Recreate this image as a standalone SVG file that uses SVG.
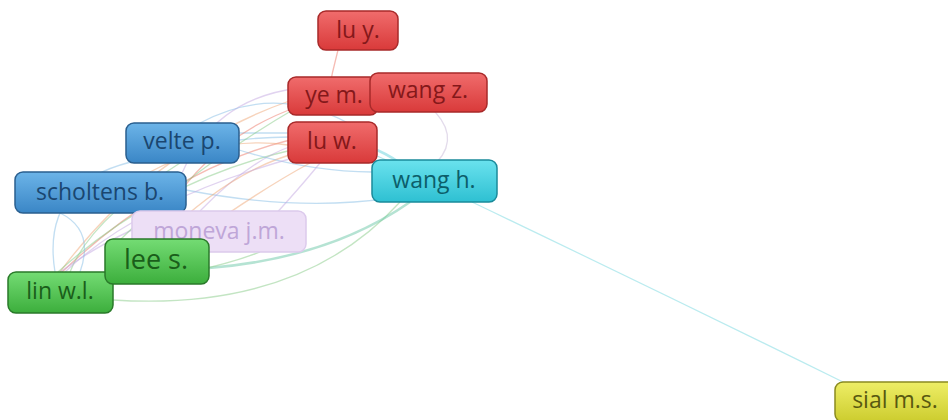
<svg xmlns="http://www.w3.org/2000/svg" width="948" height="420" viewBox="0 0 948 420">
<defs>
<linearGradient id="gRed" x1="0" y1="0" x2="0" y2="1"><stop offset="0" stop-color="#f06c6c"/><stop offset="1" stop-color="#d93a3a"/></linearGradient>
<linearGradient id="gBlue" x1="0" y1="0" x2="0" y2="1"><stop offset="0" stop-color="#6cb4e8"/><stop offset="1" stop-color="#3a86c6"/></linearGradient>
<linearGradient id="gCyan" x1="0" y1="0" x2="0" y2="1"><stop offset="0" stop-color="#6ae2ee"/><stop offset="1" stop-color="#2ec0d2"/></linearGradient>
<linearGradient id="gGreen" x1="0" y1="0" x2="0" y2="1"><stop offset="0" stop-color="#74dc74"/><stop offset="1" stop-color="#3cae3c"/></linearGradient>
<linearGradient id="gYellow" x1="0" y1="0" x2="0" y2="1"><stop offset="0" stop-color="#eeee66"/><stop offset="1" stop-color="#cccc2e"/></linearGradient>
</defs>
<style>
text{font-family:"Open Sans","DejaVu Sans",sans-serif;font-size:23px;text-anchor:middle}
.red rect{fill:url(#gRed);stroke:#a82a2a;stroke-width:1.5}
.red text{fill:#84181a}
.blue rect{fill:url(#gBlue);stroke:#2a5f8f;stroke-width:1.5}
.blue text{fill:#1a4670}
.cyan rect{fill:url(#gCyan);stroke:#1a8a9a;stroke-width:1.5}
.cyan text{fill:#0c5e6a}
.green rect{fill:url(#gGreen);stroke:#2a7a2a;stroke-width:1.5}
.green text{fill:#1a5e1a}
.yellow rect{fill:url(#gYellow);stroke:#8a8a20;stroke-width:1.5}
.yellow text{fill:#585810}
.faded rect{fill:#eddff6;stroke:#dccaec;stroke-width:1.5}
.faded text{fill:#bfa6d8}
#edges path{fill:none;stroke-width:1.3;stroke-opacity:0.5}
.er{stroke:#ee7a6a}.eo{stroke:#f0a878}.eg{stroke:#88cc88}.eb{stroke:#86bde6}.ep{stroke:#c4a8e2}.ec{stroke:#66d2dc}.et{stroke:#6cc8a8}
</style>
<g id="edges">
<path class="er" d="M338,50 Q332,72 328,96"/>
<path class="eb" d="M239,133 L288,133"/>
<path class="eb" d="M239,140 Q265,137 290,137"/>
<path class="ec" d="M377,150 Q395,158 406,168" style="stroke-width:2.5"/>
<path class="ec" d="M377,156 Q392,162 402,170"/>
<path class="eo" d="M60,272 Q150,150 292,100"/>
<path class="er" d="M62,272 Q170,170 290,140"/>
<path class="eg" d="M58,272 Q160,180 292,150"/>
<path class="eb" d="M55,272 Q40,180 140,160"/>
<path class="eg" d="M113,300 Q300,312 400,202"/>
<path class="et" d="M209,268 Q330,258 410,202" style="stroke-width:2.5"/>
<path class="eb" d="M186,190 Q300,212 390,198"/>
<path class="ep" d="M170,211 Q195,100 300,88"/>
<path class="ep" d="M200,211 Q250,160 292,146"/>
<path class="ep" d="M428,105 Q462,135 437,162" style="stroke:#c8b8d8"/>
<path class="ep" d="M60,272 Q120,230 170,216"/>
<path class="eo" d="M160,240 Q230,170 300,152"/>
<path class="er" d="M150,240 Q200,140 300,106"/>
<path class="eo" d="M150,172 Q220,135 288,145"/>
<path class="eg" d="M70,272 Q90,220 180,163"/>
<path class="eb" d="M239,150 Q310,172 372,172"/>
<path class="ep" d="M65,272 Q140,200 300,156"/>
<path class="eg" d="M120,240 Q190,170 296,108"/>
<path class="eb" d="M80,272 Q95,230 60,213"/>
<path class="ep" d="M240,252 Q290,200 320,163"/>
<path class="eo" d="M190,240 Q260,190 310,163"/>
<path class="eb" d="M200,123 Q280,80 360,130"/>
<path class="eg" d="M113,282 Q200,275 260,252"/>
<path class="ec" d="M472,202 Q660,292 843,382" style="stroke-width:1.2;stroke-opacity:0.45"/>
</g>
<g id="n-luy" class="red"><rect x="318" y="11" width="80" height="39" rx="8"/><text x="358" y="38">lu y.</text></g>
<g id="n-yem" class="red"><rect x="288" y="77" width="90" height="38" rx="8"/><text x="334" y="103">ye m.</text></g>
<g id="n-wangz" class="red"><rect x="370" y="73" width="117" height="39" rx="8"/><text x="428" y="98">wang z.</text></g>
<g id="n-luw" class="red"><rect x="288" y="122" width="89" height="41" rx="8"/><text x="332" y="149">lu w.</text></g>
<g id="n-velte" class="blue"><rect x="126" y="123" width="113" height="40" rx="8"/><text x="182" y="149">velte p.</text></g>
<g id="n-scholtens" class="blue"><rect x="15" y="172" width="171" height="41" rx="8"/><text x="100" y="200">scholtens b.</text></g>
<g id="n-wangh" class="cyan"><rect x="372" y="160" width="125" height="42" rx="8"/><text x="434" y="188">wang h.</text></g>
<g id="n-moneva" class="faded"><rect x="132" y="211" width="174" height="41" rx="8"/><text x="219" y="239">moneva j.m.</text></g>
<g id="n-linwl" class="green"><rect x="8" y="272" width="105" height="41" rx="8"/><text x="60" y="299">lin w.l.</text></g>
<g id="n-lees" class="green"><rect x="105" y="239" width="104" height="45" rx="8"/><text x="156" y="269" style="font-size:27px">lee s.</text></g>
<g id="n-sial" class="yellow"><rect x="835" y="382" width="122" height="40" rx="8"/><text x="895" y="408">sial m.s.</text></g>
</svg>
